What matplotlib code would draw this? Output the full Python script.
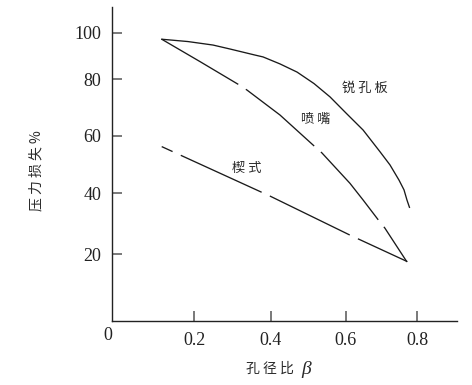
import matplotlib
matplotlib.use("Agg")
import matplotlib.pyplot as plt
import numpy as np

# values (beta, pressure loss %)
beta_orifice = [0.1205, 0.1845, 0.249, 0.2935, 0.359, 0.38, 0.4247, 0.470, 0.515, 0.5575,
                0.600, 0.648, 0.6954, 0.7234, 0.7487, 0.7627, 0.771, 0.778]
loss_orifice = [97.2, 96.2, 94.7, 93.0, 90.4, 89.6, 86.6, 83.1, 78.5, 73.8,
                68.1, 62.1, 54.5, 49.9, 44.6, 41.2, 37.8, 35.4]

beta_nozzle = [0.1205, 0.2149, 0.314, 0.338, 0.4247, 0.518, 0.536, 0.611, 0.648, 0.695, 0.709, 0.771]
loss_nozzle = [97.2, 87.6, 78.3, 76.2, 67.4, 56.2, 54.1, 43.5, 37.8, 30.6, 28.6, 17.7]

beta_wedge = [0.1205, 0.398, 0.611, 0.772]
loss_wedge = [56.3, 39.1, 26.3, 17.8]

xticks = [0.2, 0.4, 0.6, 0.8]
yticks = [20, 40, 60, 80, 100]

# the original axes are hand drawn, tick spacing is uneven -> piecewise scale
x_knots = [0, 0.2, 0.4, 0.6, 0.8, 0.91]
x_pos = [112.3, 194.3, 270.7, 346, 417.3, 456.7]
y_knots = [0, 20, 40, 60, 80, 100, 111]
y_pos = [-320.7, -254.3, -193.3, -136, -79.3, -32.7, -7]

plt.rcParams['lines.scale_dashes'] = False
plt.rcParams['font.family'] = ['Liberation Serif', 'DejaVu Sans']
cjk = ['Noto Sans CJK SC', 'DejaVu Sans']

W, H = 472, 385
fig = plt.figure(figsize=(W / 100, H / 100), dpi=100)
ax = fig.add_axes([x_pos[0] / W, (H + y_pos[0]) / H,
                   (x_pos[-1] - x_pos[0]) / W, (y_pos[-1] - y_pos[0]) / H])

ax.set_xscale('function', functions=(lambda v: np.interp(v, x_knots, x_pos),
                                     lambda p: np.interp(p, x_pos, x_knots)))
ax.set_yscale('function', functions=(lambda v: np.interp(v, y_knots, y_pos),
                                     lambda p: np.interp(p, y_pos, y_knots)))
ax.set_xlim(0, 0.91)
ax.set_ylim(0, 111)

lc = '#1a1a1a'
ax.plot(beta_orifice, loss_orifice, color=lc, lw=0.95, solid_joinstyle='round')
ax.plot(beta_nozzle, loss_nozzle, color=lc, lw=0.95, linestyle=(0, (64, 6.5)))
ax.plot(beta_wedge, loss_wedge, color=lc, lw=0.95, linestyle=(55.4, (64, 6.5)))

tc = '#2a2a2a'
ax.text(0.653, 76.9, '锐 孔 板', family=cjk, fontsize=9.5, ha='center', va='center', color=tc)
ax.text(0.520, 66.0, '喷 嘴', family=cjk, fontsize=9.5, ha='center', va='center', color=tc)
ax.text(0.338, 48.5, '楔 式', family=cjk, fontsize=9.5, ha='center', va='center', color=tc)

for s in ['top', 'right']:
    ax.spines[s].set_visible(False)
for s in ['left', 'bottom']:
    ax.spines[s].set_linewidth(1.0)
    ax.spines[s].set_color('#222')

ax.set_xticks(xticks)
ax.set_xticklabels([f'{t:.1f}' for t in xticks])
ax.set_yticks(yticks)
ax.set_yticklabels([str(t) for t in yticks])
ax.minorticks_off()
ax.tick_params(direction='in', length=7, width=1.1, color='#555', pad=8,
               labelsize=13, labelcolor='#222')

ax.annotate('0', xy=(0, 0), xytext=(-3.5, -10.5), textcoords='offset points',
            ha='center', va='center', fontsize=13, color='#222')

fig.text(36 / W, 1 - 171 / H, '压 力 损 失 %', family=cjk, fontsize=10,
         rotation=90, ha='center', va='center', color=tc)
fig.text(270 / W, 1 - 369 / H, '孔 径 比', family=cjk, fontsize=10,
         ha='center', va='center', color=tc)
fig.text(306 / W, 1 - 369 / H, 'β', fontsize=14, style='italic',
         ha='center', va='center', color=tc)

fig.savefig('out.png', dpi=100)
